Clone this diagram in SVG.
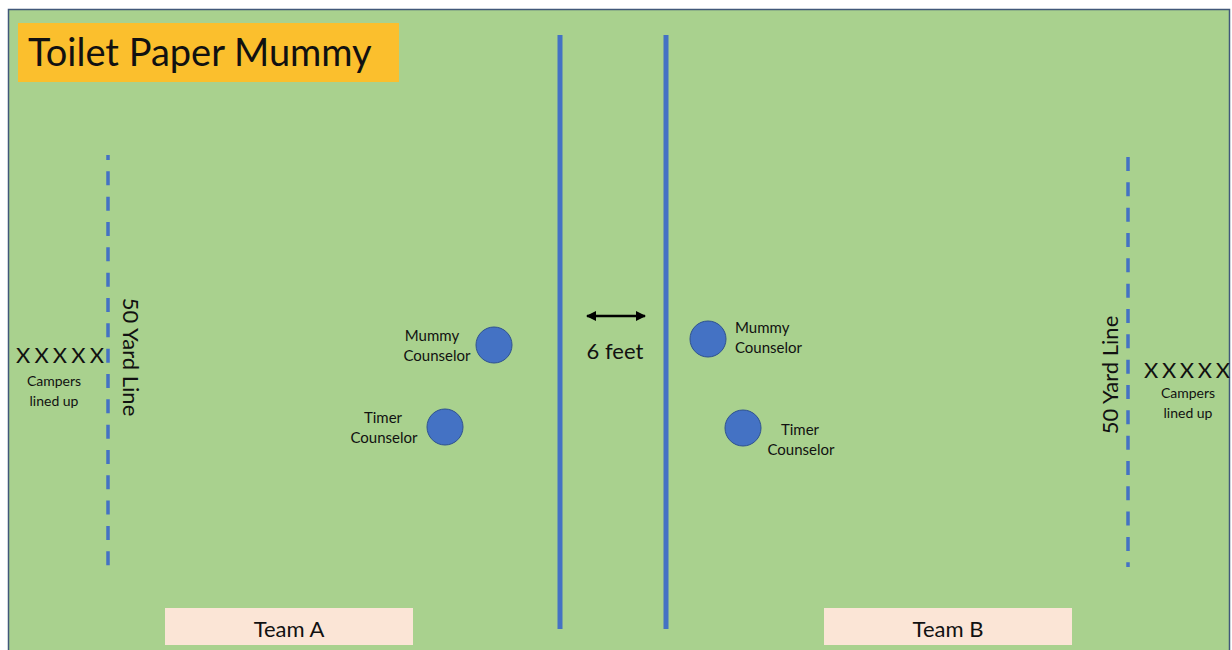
<svg xmlns="http://www.w3.org/2000/svg" width="1232" height="650" viewBox="0 0 1232 650">
<style>
text{font-family:Lato,"Open Sans","Liberation Sans",sans-serif;fill:#111}
.lbl{font-size:15px}
.small{font-size:14px}
.mid{font-size:22px}
.dash{stroke:#4472C4;stroke-width:3.5;stroke-dasharray:14 11.33}
.solid{stroke:#4472C4;stroke-width:5}
.dot{fill:#4472C4;stroke:#2F528F;stroke-width:1}
</style>
<defs>
<marker id="ah" viewBox="0 0 10 10" refX="9" refY="5" markerWidth="4" markerHeight="4" orient="auto-start-reverse" markerUnits="strokeWidth">
<path d="M0,0 L10,5 L0,10 z" fill="#000"/>
</marker>
</defs>
<rect width="1232" height="650" fill="#ffffff"/>
<rect id="field" x="8.5" y="9.5" width="1221" height="660" fill="#A9D18E" stroke="#41587A" stroke-width="1.5"/>
<g id="title">
<rect x="18" y="23" width="381" height="59" fill="#FBBF2D"/>
<text x="28" y="66" style="font-size:38px">Toilet Paper Mummy</text>
</g>
<g id="connectors">
<line class="dash" x1="108" y1="155" x2="108" y2="567" stroke-dashoffset="9"/>
<line class="dash" x1="1128" y1="157" x2="1128" y2="567"/>
<line class="solid" x1="560" y1="35" x2="560" y2="629"/>
<line class="solid" x1="666" y1="35" x2="666" y2="629"/>
<line x1="587" y1="316" x2="645" y2="316" stroke="#000" stroke-width="2.5" marker-start="url(#ah)" marker-end="url(#ah)"/>
</g>
<g id="dist-label"><text class="mid" x="615" y="359" text-anchor="middle">6 feet</text></g>
<g id="campers-a">
<text class="mid" x="16" y="363" textLength="88" lengthAdjust="spacing">XXXXX</text>
<text class="small" x="54" y="386" text-anchor="middle">Campers</text>
<text class="small" x="54" y="406" text-anchor="middle">lined up</text>
</g>
<g id="yard-a"><text class="mid" transform="translate(123,357) rotate(90)" text-anchor="middle">50 Yard Line</text></g>
<g id="campers-b">
<text class="mid" x="1144" y="378" textLength="86" lengthAdjust="spacing">XXXXX</text>
<text class="small" x="1188" y="398" text-anchor="middle">Campers</text>
<text class="small" x="1188" y="418" text-anchor="middle">lined up</text>
</g>
<g id="yard-b"><text class="mid" transform="translate(1118,375) rotate(-90)" text-anchor="middle">50 Yard Line</text></g>
<g id="mummy-a">
<circle class="dot" cx="494" cy="345" r="18"/>
<text class="lbl" x="432" y="341" text-anchor="middle">Mummy</text>
<text class="lbl" x="437" y="361" text-anchor="middle">Counselor</text>
</g>
<g id="timer-a">
<circle class="dot" cx="445" cy="427" r="18"/>
<text class="lbl" x="383" y="423" text-anchor="middle">Timer</text>
<text class="lbl" x="384" y="443" text-anchor="middle">Counselor</text>
</g>
<g id="mummy-b">
<circle class="dot" cx="708" cy="339" r="18"/>
<text class="lbl" x="735" y="333">Mummy</text>
<text class="lbl" x="735" y="353">Counselor</text>
</g>
<g id="timer-b">
<circle class="dot" cx="743" cy="428" r="18"/>
<text class="lbl" x="800" y="435" text-anchor="middle">Timer</text>
<text class="lbl" x="801" y="455" text-anchor="middle">Counselor</text>
</g>
<g id="team-a">
<rect x="165" y="608" width="248" height="37" fill="#FBE5D6"/>
<text class="mid" x="289" y="637" text-anchor="middle">Team A</text>
</g>
<g id="team-b">
<rect x="824" y="608" width="248" height="37" fill="#FBE5D6"/>
<text class="mid" x="948" y="637" text-anchor="middle">Team B</text>
</g>
</svg>
